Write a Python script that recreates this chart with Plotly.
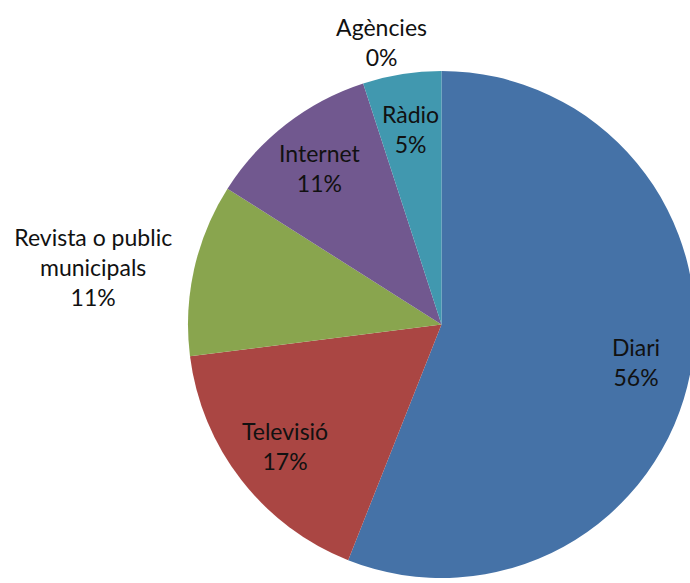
import math
import plotly.graph_objects as go

labels = ['Diari', 'Televisió', 'Revista o public<br>municipals', 'Internet', 'Ràdio', 'Agències']
values = [56, 17, 11, 11, 5, 0]
colors = ['#4572A7', '#AA4643', '#89A54E', '#71588F', '#4198AF', '#DB843D']
outside = [False, False, True, False, False, True]

font = dict(family='Lato', size=23, color='#111111')

# outside labels are drawn by the pie itself, inside ones as annotations further out
templates = ['%{label}<br>%{percent:.0%}' if o else '' for o in outside]

fig = go.Figure(go.Pie(
    labels=labels,
    values=values,
    sort=False,
    direction='clockwise',
    rotation=0,
    marker=dict(colors=colors, line=dict(width=0)),
    texttemplate=templates,
    textposition=['outside' if o else 'none' for o in outside],
    textfont=font,
    showlegend=False,
    hoverinfo='label+percent',
))

total = sum(values)
cum = 0
for lab, v, o in zip(labels, values, outside):
    mid = (cum + v / 2) / total * 2 * math.pi
    cum += v
    if o:
        continue
    r = 0.5 * 0.78
    fig.add_annotation(
        x=0.5 + r * math.sin(mid), y=0.5 + r * math.cos(mid),
        xref='paper', yref='paper',
        xanchor='center', yanchor='middle',
        text=f'{lab}<br>{v / total * 100:.0f}%',
        showarrow=False, font=font,
    )

# the chart is cut at the right edge, so the figure is a bit wider than the window
fig.update_layout(
    width=700, height=583,
    margin=dict(l=188, r=2, t=71, b=2),
    paper_bgcolor='white',
    plot_bgcolor='white',
)

fig.write_html("out.html", config={'displayModeBar': False},
               post_script="document.body.style.overflow='hidden';document.body.style.margin='0';")
